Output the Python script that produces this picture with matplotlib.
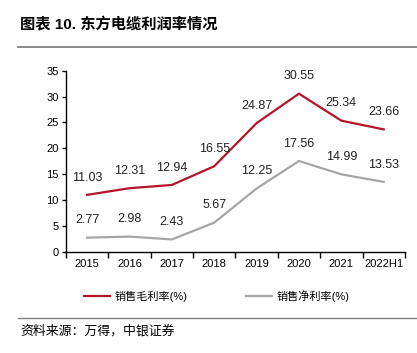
import matplotlib.pyplot as plt
import numpy as np

plt.rcParams['font.family'] = ['Liberation Sans Narrow', 'Liberation Sans', 'Noto Sans CJK SC', 'DejaVu Sans']

years = ['2015', '2016', '2017', '2018', '2019', '2020', '2021', '2022H1']
gross_margin = [11.03, 12.31, 12.94, 16.55, 24.87, 30.55, 25.34, 23.66]
net_margin = [2.77, 2.98, 2.43, 5.67, 12.25, 17.56, 14.99, 13.53]

red = '#B5152B'
grey = '#A6A6A6'

fig = plt.figure(figsize=(4.17, 3.53), dpi=100)
ax = fig.add_axes([0.158, 0.286, 0.813, 0.514])

x = np.arange(len(years))
ax.plot(x, gross_margin, color=red, lw=1.6, label='销售毛利率(%)')
ax.plot(x, net_margin, color=grey, lw=1.6, label='销售净利率(%)')

for xi, v in zip(x, gross_margin):
    ax.annotate(f'{v:.2f}', (xi, v), xytext=(0, 12.5), textcoords='offset points',
                ha='center', va='center', fontsize=9, color='#222222')
for xi, v in zip(x, net_margin):
    ax.annotate(f'{v:.2f}', (xi, v), xytext=(0, 12.5), textcoords='offset points',
                ha='center', va='center', fontsize=9, color='#222222')

ax.set_xlim(-0.5, len(years) - 0.5)
ax.set_ylim(0, 35)
ax.set_yticks(range(0, 36, 5))
ax.set_xticks(x)
ax.set_xticklabels(years)
ax.set_xticks(np.arange(-0.5, len(years)), minor=True)
ax.tick_params(axis='x', which='major', length=0, labelsize=8, pad=5)
ax.tick_params(axis='x', which='minor', length=4, width=1)
ax.tick_params(axis='y', length=3, width=1, labelsize=8, pad=2)
for s in ['top', 'right']:
    ax.spines[s].set_visible(False)
for s in ['left', 'bottom']:
    ax.spines[s].set_linewidth(1)

fig.legend(loc='center', bbox_to_anchor=(0.52, 0.16), ncol=2, frameon=False,
           fontsize=8, handlelength=2.3, handletextpad=0.4, columnspacing=5.3)

# title and source
fig.text(0.048, 0.929, '图表 10. 东方电缆利润率情况', fontsize=11, fontweight='bold',
         va='center', ha='left')
fig.add_artist(plt.Line2D([0.043, 1.0], [0.867, 0.867], color='#808080', lw=1.3))
fig.add_artist(plt.Line2D([0.043, 1.0], [0.099, 0.099], color='#808080', lw=1.0))
fig.text(0.048, 0.062, '资料来源：万得，中银证券', fontsize=9.3, va='center', ha='left',
         style='italic')

fig.savefig('out.png', dpi=100)
